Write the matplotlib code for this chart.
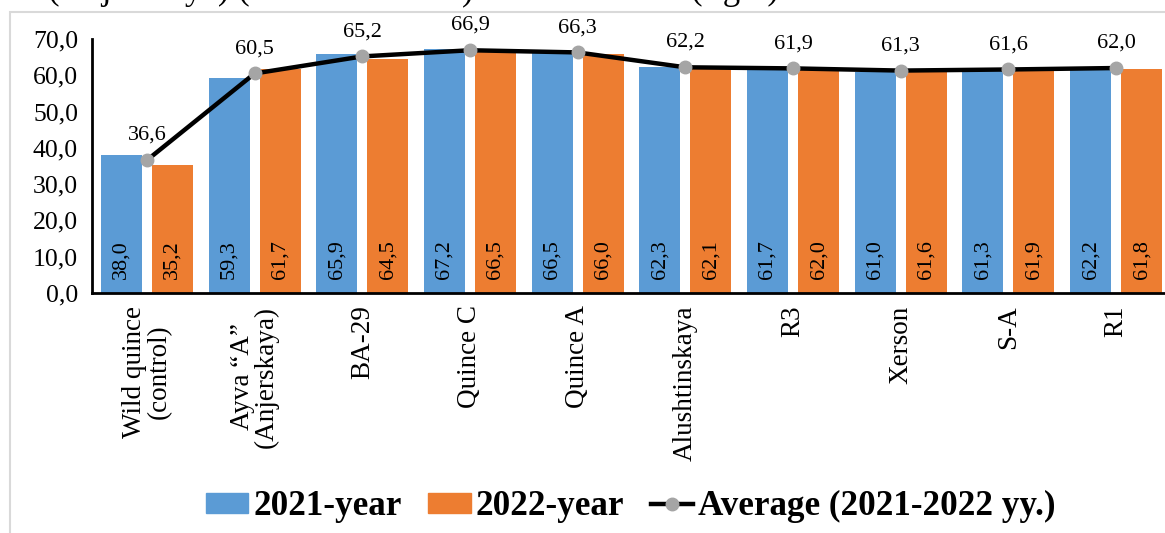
import matplotlib.pyplot as plt
import numpy as np
from matplotlib.patches import Rectangle
from matplotlib.lines import Line2D

plt.rcParams['font.family'] = ['Liberation Serif', 'DejaVu Serif']

varieties = ["Wild quince\n(control)", "Ayva \u201cA\u201d\n(Anjerskaya)", "BA-29", "Quince C",
             "Quince A", "Alushtinskaya", "R3", "Xerson", "S-A", "R1"]
year_2021 = [38.0, 59.3, 65.9, 67.2, 66.5, 62.3, 61.7, 61.0, 61.3, 62.2]
year_2022 = [35.2, 61.7, 64.5, 66.5, 66.0, 62.1, 62.0, 61.6, 61.9, 61.8]
average = [36.6, 60.5, 65.2, 66.9, 66.3, 62.2, 61.9, 61.3, 61.6, 62.0]
y_ticks = [0, 10, 20, 30, 40, 50, 60, 70]

blue = "#5B9BD5"
orange = "#ED7D31"
grey = "#A5A5A5"


def fmt(v):
    return f"{v:.1f}".replace(".", ",")


fig = plt.figure(figsize=(11.65, 5.33), dpi=100)

# outer chart frame (runs off the right and bottom edges)
fig.patches.append(Rectangle((10 / 1165, -0.05), 1.2, (533 - 12) / 533 + 0.05,
                             transform=fig.transFigure, fill=False,
                             edgecolor="#D9D9D9", linewidth=1.5))

# caption line above the chart, mostly outside the page
for x, s in [(48, "(Anjerskaya) ("), (462, ")"), (691, "(right)")]:
    fig.text(x / 1165, 1 + 1 / 533, s, fontsize=25, va="baseline", ha="left")

ax = fig.add_axes([92 / 1165, 240 / 533, 1079 / 1165, 254 / 533])
x = np.arange(len(varieties))
w = 0.38
b1 = ax.bar(x - 0.237, year_2021, w, color=blue, zorder=2)
b2 = ax.bar(x + 0.237, year_2022, w, color=orange, zorder=2)

for bars, vals in [(b1, year_2021), (b2, year_2022)]:
    for r, v in zip(bars, vals):
        ax.text(r.get_x() + r.get_width() / 2, 3.8, fmt(v), rotation=90,
                ha="center", va="bottom", fontsize=16, zorder=4)

ax.plot(x, average, color="black", linewidth=3.2, marker="o", markersize=9,
        markerfacecolor=grey, markeredgecolor=grey, zorder=3)
for xi, v in zip(x, average):
    ax.annotate(fmt(v), (xi, v), xytext=(0, 11), textcoords="offset points",
                ha="center", va="bottom", fontsize=16, zorder=4)

ax.set_xlim(-0.51, 9.51)
ax.set_ylim(0, 70)
ax.set_yticks(y_ticks)
ax.set_yticklabels([fmt(t) for t in y_ticks], fontsize=18.5)
ax.set_xticks(x)
ax.set_xticklabels(varieties, rotation=90, fontsize=19.5, va="top", ha="center",
                   linespacing=0.95)
ax.tick_params(length=0, pad=9)
ax.tick_params(axis="y", pad=10)
for side in ["top", "right"]:
    ax.spines[side].set_visible(False)
for side in ["left", "bottom"]:
    ax.spines[side].set_linewidth(2)

handles = [Rectangle((0, 0), 1, 1, color=blue),
           Rectangle((0, 0), 1, 1, color=orange),
           Line2D([], [], color="black", linewidth=3.2, marker="o", markersize=9,
                  markerfacecolor=grey, markeredgecolor=grey)]
fig.legend(handles, ["2021-year", "2022-year", "Average (2021-2022 yy.)"],
           loc="center", bbox_to_anchor=(0.5416, 0.049), ncol=3, frameon=False,
           prop={"weight": "bold", "size": 25.3}, handlelength=1.2, handleheight=0.51,
           handletextpad=0.15, columnspacing=0.75)

fig.savefig("out.png", dpi=100)
